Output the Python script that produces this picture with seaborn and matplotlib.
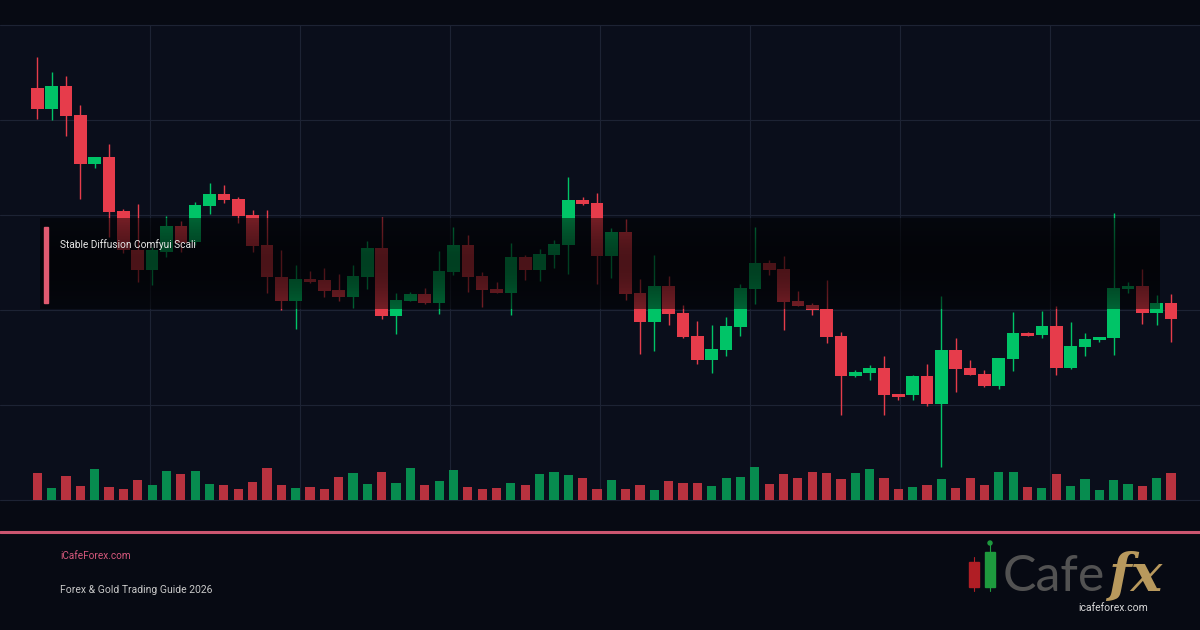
import numpy as np
import pandas as pd
import matplotlib
matplotlib.use("Agg")
import matplotlib.pyplot as plt
import seaborn as sns
from matplotlib.patches import Rectangle, Circle
from matplotlib.colors import LinearSegmentedColormap

# price levels (one entry per candle)
OPEN = [412, 391, 414, 385, 336, 343, 289, 250, 230, 248, 274, 258, 294, 306, 301, 285, 255, 223, 199, 221,
        220, 210, 203, 223, 252, 184, 199, 206, 197, 228, 255, 224, 211, 207, 243, 230, 245, 255, 300, 297,
        244, 268, 207, 178, 214, 187, 164, 140, 150, 173, 211, 237, 231, 199, 195, 191, 164, 124, 127, 132,
        106, 105, 124, 96, 150, 132, 126, 114, 141, 167, 165, 174, 132, 153, 160, 162, 211, 214, 187, 197]
HIGH = [443, 428, 424, 395, 343, 356, 291, 296, 253, 284, 279, 298, 317, 315, 303, 290, 290, 250, 235, 229,
        232, 226, 235, 259, 283, 207, 208, 212, 249, 273, 265, 228, 218, 257, 245, 251, 260, 323, 303, 307,
        272, 281, 221, 245, 224, 195, 179, 175, 183, 216, 273, 240, 244, 209, 197, 220, 168, 130, 135, 144,
        106, 125, 136, 204, 162, 140, 130, 142, 188, 168, 189, 194, 178, 167, 163, 287, 218, 231, 205, 206]
LOW = [381, 380, 364, 301, 332, 263, 247, 218, 215, 243, 248, 255, 286, 297, 277, 248, 207, 190, 171, 217,
       203, 199, 192, 211, 181, 166, 199, 196, 186, 225, 208, 193, 207, 185, 220, 219, 232, 226, 295, 216,
       222, 200, 146, 149, 175, 162, 136, 127, 144, 164, 196, 225, 170, 194, 185, 157, 85, 123, 120, 85,
       100, 100, 94, 33, 108, 125, 113, 111, 129, 164, 162, 125, 131, 144, 158, 145, 207, 176, 175, 158]
CLOSE = [391, 414, 384, 336, 343, 288, 250, 230, 250, 274, 257, 295, 306, 300, 284, 254, 223, 199, 221, 218,
         209, 203, 224, 252, 184, 200, 206, 197, 229, 255, 223, 210, 207, 243, 230, 246, 256, 300, 296, 244,
         268, 206, 178, 214, 186, 163, 140, 151, 174, 212, 237, 230, 198, 194, 190, 163, 124, 128, 132, 105,
         103, 124, 96, 150, 131, 125, 114, 142, 167, 164, 174, 132, 154, 161, 163, 212, 214, 187, 197, 181]
VOLUME = [27, 12, 24, 14, 31, 13, 11, 20, 15, 29, 26, 29, 16, 15, 11, 18, 32, 15, 12, 13,
          11, 23, 27, 16, 28, 17, 32, 15, 19, 30, 13, 11, 12, 17, 15, 26, 28, 25, 22, 11,
          20, 11, 15, 10, 19, 17, 17, 14, 22, 23, 33, 16, 26, 22, 28, 27, 21, 27, 31, 22,
          11, 13, 15, 21, 12, 22, 15, 28, 28, 13, 12, 26, 14, 21, 10, 20, 16, 14, 22, 27]

TITLE = "Stable Diffusion Comfyui Scali"
SITE = "iCafeForex.com"
SUBTITLE = "Forex & Gold Trading Guide 2026"
LOGO_URL = "icafeforex.com"

UP, DOWN = "#00c467", "#e63c4b"
VOL_UP, VOL_DOWN = "#078c4f", "#b8323f"
GRID = "#1d2334"
PINK = "#cc5670"

sns.set_theme(style="dark", rc={"axes.facecolor": "none", "figure.facecolor": "#070a13"})
plt.rcParams["font.family"] = ["Roboto", "DejaVu Sans"]

df = pd.DataFrame({"open": OPEN, "high": HIGH, "low": LOW, "close": CLOSE, "volume": VOLUME})
df["idx"] = np.arange(len(df))
df["dir"] = np.where(df["close"] >= df["open"], "up", "down")
colors = df["dir"].map({"up": UP, "down": DOWN})

fig = plt.figure(figsize=(12, 6.3), dpi=100)

# background layer in pixel coordinates
bg = fig.add_axes([0, 0, 1, 1], zorder=0)
bg.add_patch(Rectangle((0, 0), 1200, 630, color="#070a13"))
bg.add_patch(Rectangle((0, 25), 1200, 475, color="#0a0e1b"))
foot = LinearSegmentedColormap.from_list("foot", ["#07090f", "#020304"])
bg.imshow(np.linspace(0, 1, 100).reshape(-1, 1), cmap=foot, extent=(0, 1200, 630, 533), aspect="auto")
for y in range(25, 501, 95):
    bg.plot([0, 1200], [y, y], color=GRID, lw=0.8)
for x in range(150, 1200, 150):
    bg.plot([x, x], [25, 500], color=GRID, lw=0.8)
bg.set_xlim(0, 1200)
bg.set_ylim(630, 0)
bg.axis("off")

# candles
ax = fig.add_axes([0, 130 / 630, 1, 475 / 630], zorder=1)
ax.patch.set_alpha(0)
ax.vlines(df["idx"], df["low"], df["high"], colors=colors, lw=1.0, zorder=2)
ax.bar(df["idx"], (df["close"] - df["open"]).abs().clip(lower=1),
       bottom=df[["open", "close"]].min(axis=1), width=0.88, color=colors, lw=0, zorder=3)

# volume on its own scale
axv = ax.twinx()
sns.barplot(data=df, x="idx", y="volume", hue="dir", palette={"up": VOL_UP, "down": VOL_DOWN},
            native_scale=True, dodge=False, width=0.64, errorbar=None, legend=False,
            saturation=1, linewidth=0, edgecolor="none", ax=axv)
for a in (ax, axv):
    a.set_xlim(-2.6, 81.02)
    a.set_ylim(0, 475)
    a.axis("off")

# overlay, caption, footer and logo
top = fig.add_axes([0, 0, 1, 1], zorder=3)
top.patch.set_alpha(0)
shade = np.zeros((60, 1, 4))
shade[:, 0, 3] = 0.5 + 0.18 * np.sin(np.linspace(0, np.pi, 60))
top.imshow(shade, extent=(40, 1160, 309.5, 219), aspect="auto", interpolation="bilinear")
top.add_patch(Rectangle((44, 227), 4, 76, color="#e05a70"))
top.text(60, 245, TITLE, color="#e6e6e6", fontsize=7.3, va="center")

top.plot([0, 1200], [531.5, 531.5], color=PINK, lw=2.2)
top.text(60, 556, SITE, color="#d6587c", fontsize=7.2, va="center")
top.text(60, 590, SUBTITLE, color="#c8c8c8", fontsize=7.5, va="center")

top.plot([974, 974], [557, 591], color="#b01e25", lw=0.8)
top.add_patch(Rectangle((969, 562), 10, 25, color="#b01e25"))
top.plot([990, 990], [544, 591], color="#1e9a3e", lw=0.8)
top.add_patch(Rectangle((985, 552), 10, 35, color="#1e9a3e"))
top.add_patch(Circle((990, 543), 2, color="#1e9a3e"))
top.text(1003, 591, "Cafe", fontsize=36, family=["Lato", "DejaVu Sans"], fontweight="normal",
         color="#525252", va="baseline")
top.text(1108, 591, "fx", fontsize=38, family="DejaVu Serif", style="italic", fontweight="bold",
         color="#b8995d", va="baseline")
top.text(1113, 608, LOGO_URL, color="#d8d8d8", fontsize=7.5, ha="center", va="center")
top.set_xlim(0, 1200)
top.set_ylim(630, 0)
top.axis("off")

fig.savefig("out.png", dpi=100)
